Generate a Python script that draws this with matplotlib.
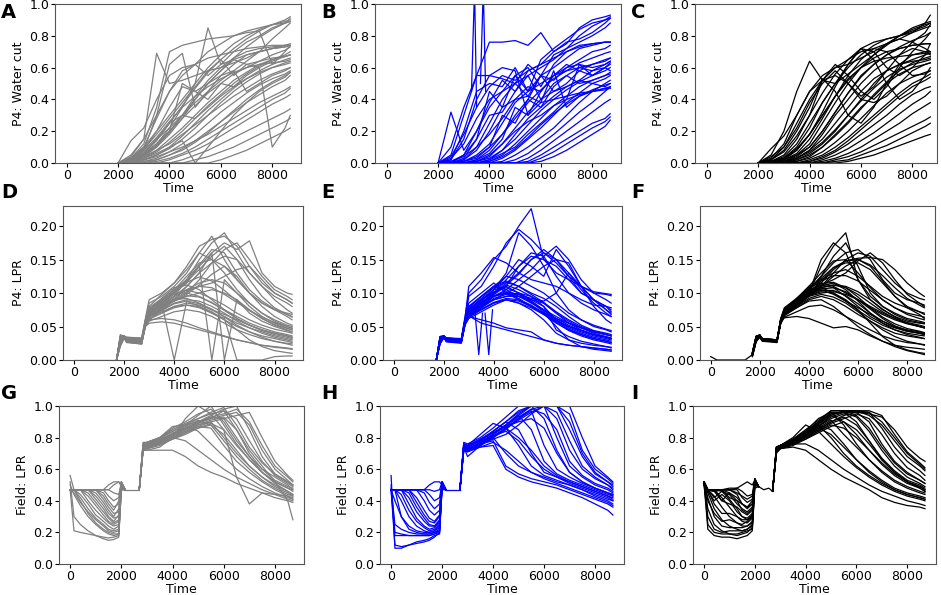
import matplotlib
matplotlib.use("Agg")
import matplotlib.pyplot as plt

# ---------------- shared time grids ----------------
WC_BASE_T = [0, 2000]
WC_BASE_V = [0.0, 0.0]
T_WC = [2000, 2500, 3000, 3500, 4000, 4500, 5000, 5500, 6000, 6500, 7000, 7500, 8000, 8500, 8700]

LPR_BASE_T = [0, 1700]
LPR_BASE_V = [0.0, 0.0]
F_BASE_T = [0, 60, 250, 1400, 1700]
F_BASE_V = [0.005, 0.004, 0.0, 0.0, 0.008]
T_LPR = [1700, 1850, 2000, 2100, 2700, 2850, 3000, 3500, 4000, 4500, 5000, 5500,
         6000, 6500, 7000, 7500, 8000, 8500, 8700]

T_FLD_EARLY = [0, 150, 400, 700, 1000, 1300, 1500, 1700, 1900, 2000, 2150]
T_FLD_MID = [2150, 2700]
V_FLD_MID = [0.47, 0.47]
T_FLD_MID_I = [2150, 2350, 2550, 2700]
V_FLD_MID_I = [0.49, 0.47, 0.48, 0.46]
T_FLD_LATE = [2700, 2850, 3000, 3500, 4000, 4500, 5000, 5500, 6000, 6500, 7000, 7500, 8000, 8500, 8700]

# ---------------- Panel A : P4 water cut (grey) ----------------
A_CURVES = [
    [0, .03, .10, .20, .30, .40, .50, .60, .68, .75, .80, .84, .87, .90, .92],
    [0, .02, .06, .15, .25, .36, .47, .57, .65, .72, .78, .83, .87, .89, .90],
    [0, .05, .15, .30, .45, .55, .62, .70, .75, .80, .83, .85, .87, .88, .89],
    [0, .01, .04, .10, .20, .30, .40, .50, .58, .66, .73, .79, .84, .88, .91],
    [0, .04, .15, .69, .50, .52, .55, .58, .60, .63, .66, .70, .72, .73, .74],
    [0, .02, .08, .30, .62, .69, .35, .45, .55, .62, .68, .70, .72, .73, .74],
    [0, .03, .12, .35, .70, .74, .76, .78, .79, .80, .82, .83, .62, .70, .74],
    [0, .02, .05, .12, .22, .35, .50, .85, .62, .65, .68, .70, .72, .74, .75],
    [0, .01, .03, .08, .15, .22, .30, .38, .45, .52, .57, .62, .65, .67, .68],
    [0, .00, .02, .05, .10, .17, .25, .33, .40, .47, .53, .58, .62, .65, .66],
    [0, .02, .06, .14, .25, .30, .28, .35, .42, .48, .53, .57, .60, .62, .63],
    [0, .01, .04, .08, .12, .18, .24, .30, .36, .42, .47, .52, .56, .59, .60],
    [0, .00, .01, .03, .07, .12, .18, .25, .32, .38, .44, .49, .53, .56, .58],
    [0, .00, .00, .02, .05, .09, .14, .20, .26, .32, .38, .43, .48, .52, .55],
    [0, .02, .08, .20, .35, .48, .45, .50, .55, .58, .45, .50, .55, .58, .60],
    [0, .00, .00, .01, .03, .06, .10, .15, .20, .25, .30, .35, .40, .44, .47],
    [0, .00, .00, .00, .02, .05, .08, .12, .17, .22, .27, .32, .37, .41, .43],
    [0, .00, .00, .00, .00, .02, .05, .08, .12, .16, .20, .24, .28, .32, .34],
    [0, .00, .00, .00, .00, .00, .02, .04, .07, .10, .14, .18, .22, .26, .28],
    [0, .00, .00, .00, .00, .00, .00, .00, .02, .05, .08, .12, .16, .20, .22],
    [0, .03, .09, .18, .28, .38, .48, .58, .65, .55, .62, .60, .10, .22, .30],
    [0, .02, .05, .10, .18, .28, .40, .50, .58, .65, .62, .64, .66, .67, .68],
    [0, .01, .03, .06, .10, .14, .00, .10, .20, .30, .38, .45, .50, .54, .57],
    [0, .14, .22, .40, .55, .60, .62, .66, .68, .70, .72, .73, .74, .74, .74],
    [0, .01, .02, .04, .07, .10, .14, .18, .23, .28, .33, .38, .42, .46, .48],
    [0, .02, .07, .15, .22, .30, .38, .45, .52, .58, .64, .70, .78, .85, .88],
    [0, .03, .10, .28, .45, .58, .62, .55, .62, .70, .76, .80, .85, .88, .89],
    [0, .01, .05, .12, .20, .50, .45, .40, .50, .48, .55, .60, .64, .67, .68],
    [0, .02, .06, .12, .20, .28, .36, .44, .50, .56, .60, .64, .68, .71, .73],
    [0, .01, .03, .07, .13, .20, .28, .36, .43, .50, .56, .61, .65, .68, .70],
    [0, .00, .02, .05, .09, .15, .22, .30, .38, .45, .51, .56, .60, .63, .64],
    [0, .03, .08, .16, .26, .35, .42, .48, .53, .57, .60, .62, .63, .64, .65],
    [0, .00, .01, .02, .05, .08, .13, .19, .26, .33, .40, .46, .51, .55, .57],
    [0, .02, .05, .11, .19, .30, .42, .52, .60, .66, .70, .72, .73, .74, .74],
]

# ---------------- Panel B : P4 water cut (blue) ----------------
B_CURVES = [
    [0, .05, .30, .55, .76, .76, .77, .74, .82, .70, .75, .85, .90, .92, .93],
    [0, .10, .35, .55, .55, .53, .50, .55, .60, .65, .72, .80, .86, .90, .92],
    [0, .02, .20, .45, .50, .48, .60, .45, .65, .72, .78, .84, .88, .90, .91],
    [0, .00, .05, .20, .38, .52, .45, .58, .62, .70, .76, .78, .82, .88, .91],
    [0, .03, .12, .28, .40, .45, .50, .42, .55, .60, .66, .72, .74, .76, .76],
    [0, .00, .02, .08, .20, .35, .55, .60, .48, .62, .70, .74, .75, .76, .76],
    [0, .00, .01, .05, .12, .25, .38, .45, .55, .52, .60, .65, .70, .72, .74],
    [0, .00, .00, .02, .08, .18, .30, .40, .35, .48, .55, .60, .62, .64, .66],
    [0, .00, .00, .01, .04, .12, .22, .32, .40, .45, .50, .58, .55, .60, .62],
    [0, .00, .00, .00, .02, .08, .18, .28, .35, .42, .48, .52, .58, .60, .58],
    [0, .00, .00, .00, .01, .05, .12, .20, .28, .36, .42, .48, .52, .55, .57],
    [0, .00, .00, .00, .00, .03, .08, .15, .22, .30, .38, .44, .50, .53, .55],
    [0, .00, .00, .00, .00, .01, .05, .10, .16, .22, .30, .38, .45, .50, .52],
    [0, .00, .00, .00, .00, .00, .02, .06, .12, .18, .25, .32, .38, .45, .48],
    [0, .00, .00, .00, .00, .00, .00, .03, .08, .14, .20, .26, .32, .38, .40],
    [0, .00, .00, .00, .00, .00, .00, .01, .05, .10, .15, .20, .25, .28, .31],
    [0, .00, .00, .00, .00, .00, .00, .00, .03, .07, .12, .17, .22, .26, .29],
    [0, .00, .00, .00, .00, .00, .00, .00, .01, .04, .08, .13, .18, .23, .27],
    [0, .02, .15, .40, .55, .60, .58, .30, .45, .55, .60, .62, .60, .62, .64],
    [0, .00, .03, .15, .30, .32, .45, .55, .40, .50, .55, .50, .52, .55, .56],
    [0, .00, .01, .03, .10, .30, .25, .40, .55, .45, .48, .52, .50, .48, .50],
    [0, .00, .00, .02, .06, .15, .35, .30, .38, .58, .35, .42, .45, .47, .48],
    [0, .01, .05, .15, .45, .35, .40, .42, .38, .40, .42, .44, .45, .46, .47],
    [0, .00, .00, .00, .02, .06, .10, .18, .25, .32, .40, .62, .55, .60, .63],
    [0, .00, .02, .10, .25, .40, .50, .62, .55, .68, .72, .76, .80, .85, .88],
    [0, .32, .08, .20, .35, .45, .55, .45, .50, .55, .58, .60, .58, .62, .64],
    [0, .00, .01, .04, .10, .18, .28, .38, .46, .53, .58, .63, .66, .69, .70],
    [0, .00, .00, .01, .03, .08, .15, .24, .33, .40, .46, .51, .55, .58, .60],
    [0, .01, .04, .10, .18, .28, .40, .48, .45, .55, .62, .58, .62, .65, .66],
    [0, .00, .00, .00, .01, .04, .09, .16, .24, .31, .37, .42, .46, .49, .50],
    [0, .04, .18, .35, .48, .55, .52, .58, .62, .66, .70, .73, .75, .76, .76],
    [0, .00, .00, .01, .05, .12, .20, .26, .30, .36, .40, .43, .45, .47, .47],
]
B_SPIKE1_T = [3300, 3420, 3500]
B_SPIKE1_V = [0.45, 1.10, 0.35]
B_SPIKE2_T = [3650, 3760, 3850]
B_SPIKE2_V = [0.50, 1.10, 0.45]

# ---------------- Panel C : P4 water cut (black) ----------------
C_CURVES = [
    [0, .05, .20, .45, .64, .52, .50, .56, .62, .68, .74, .80, .85, .88, .89],
    [0, .09, .17, .30, .45, .55, .60, .62, .66, .70, .75, .80, .84, .87, .88],
    [0, .02, .10, .25, .40, .52, .60, .65, .70, .72, .75, .78, .82, .88, .93],
    [0, .01, .05, .15, .30, .52, .62, .55, .45, .40, .48, .60, .70, .78, .82],
    [0, .00, .03, .10, .22, .38, .50, .60, .68, .74, .78, .80, .82, .85, .86],
    [0, .00, .02, .08, .18, .30, .42, .52, .60, .66, .70, .72, .74, .75, .75],
    [0, .02, .08, .20, .35, .53, .45, .30, .25, .35, .50, .62, .68, .70, .70],
    [0, .00, .01, .05, .12, .25, .38, .50, .60, .68, .75, .78, .76, .72, .70],
    [0, .00, .00, .03, .08, .18, .30, .40, .50, .58, .64, .68, .72, .70, .68],
    [0, .01, .04, .12, .25, .38, .50, .62, .72, .65, .50, .40, .45, .55, .60],
    [0, .00, .00, .02, .06, .12, .20, .30, .40, .50, .58, .62, .64, .65, .66],
    [0, .00, .00, .01, .04, .10, .18, .26, .35, .42, .50, .56, .60, .62, .63],
    [0, .00, .00, .01, .03, .07, .13, .20, .28, .36, .44, .50, .54, .57, .58],
    [0, .00, .00, .00, .02, .05, .10, .16, .23, .30, .37, .44, .50, .54, .56],
    [0, .00, .00, .00, .01, .03, .07, .12, .18, .24, .30, .37, .43, .47, .48],
    [0, .00, .00, .00, .00, .02, .05, .09, .14, .19, .25, .31, .37, .42, .45],
    [0, .00, .00, .00, .00, .01, .03, .06, .10, .15, .20, .25, .31, .36, .38],
    [0, .00, .00, .00, .00, .00, .02, .04, .07, .11, .15, .19, .23, .27, .29],
    [0, .00, .00, .00, .00, .00, .01, .02, .05, .08, .11, .15, .19, .23, .25],
    [0, .00, .00, .00, .00, .00, .00, .01, .03, .05, .08, .11, .14, .17, .18],
    [0, .03, .12, .30, .45, .52, .55, .50, .40, .38, .42, .50, .58, .62, .63],
    [0, .00, .02, .06, .15, .28, .42, .55, .65, .72, .70, .62, .55, .56, .58],
    [0, .01, .03, .08, .18, .32, .48, .62, .72, .70, .60, .55, .60, .68, .75],
    [0, .00, .02, .05, .10, .20, .32, .44, .55, .62, .68, .73, .77, .80, .82],
    [0, .00, .01, .03, .08, .15, .25, .35, .45, .53, .58, .62, .65, .68, .69],
    [0, .04, .10, .22, .38, .50, .58, .50, .42, .48, .58, .68, .76, .82, .87],
    [0, .00, .01, .04, .10, .20, .32, .44, .54, .62, .68, .72, .74, .75, .75],
    [0, .00, .00, .02, .05, .10, .17, .25, .34, .43, .51, .58, .63, .66, .67],
    [0, .01, .03, .09, .18, .30, .42, .53, .60, .64, .66, .67, .68, .69, .70],
    [0, .00, .00, .00, .01, .04, .08, .14, .21, .28, .35, .42, .48, .52, .54],
    [0, .02, .07, .17, .30, .44, .56, .65, .72, .76, .78, .80, .83, .86, .88],
    [0, .00, .01, .03, .07, .13, .21, .30, .39, .47, .54, .59, .62, .64, .65],
]

# ---------------- Panel D : P4 LPR (grey) ----------------
D_CURVES = [
    [0, .035, .036, .034, .033, .060, .085, .095, .110, .130, .160, .185, .150, .120, .100, .085, .075, .070, .068],
    [0, .030, .035, .030, .028, .055, .070, .080, .095, .120, .150, .175, .190, .160, .130, .110, .095, .085, .080],
    [0, .020, .033, .028, .025, .052, .065, .085, .100, .115, .140, .160, .175, .165, .178, .130, .110, .100, .098],
    [0, .025, .036, .032, .030, .058, .075, .090, .105, .125, .145, .150, .140, .120, .100, .085, .075, .065, .060],
    [0, .033, .034, .026, .024, .050, .060, .075, .090, .110, .130, .145, .155, .150, .130, .110, .090, .075, .070],
    [0, .038, .035, .030, .027, .054, .068, .082, .095, .105, .115, .120, .115, .100, .085, .070, .060, .052, .050],
    [0, .028, .034, .031, .029, .056, .072, .088, .100, .100, .095, .085, .075, .065, .055, .048, .042, .038, .036],
    [0, .022, .032, .027, .024, .052, .064, .078, .090, .092, .085, .075, .065, .055, .048, .042, .036, .032, .030],
    [0, .030, .035, .033, .031, .058, .078, .092, .108, .112, .105, .090, .075, .062, .052, .045, .040, .036, .034],
    [0, .035, .036, .029, .026, .051, .062, .070, .080, .085, .082, .075, .068, .060, .052, .045, .040, .036, .034],
    [0, .024, .033, .030, .028, .055, .066, .075, .085, .090, .088, .080, .070, .058, .048, .040, .034, .030, .028],
    [0, .032, .035, .028, .025, .052, .058, .065, .072, .075, .072, .065, .055, .045, .038, .032, .028, .025, .024],
    [0, .030, .034, .032, .030, .056, .080, .098, .115, .135, .160, .150, .130, .105, .085, .070, .058, .050, .048],
    [0, .027, .036, .031, .028, .055, .070, .080, .090, .100, .120, .145, .165, .175, .150, .125, .105, .095, .090],
    [0, .034, .035, .027, .024, .050, .055, .057, .055, .050, .045, .040, .035, .030, .026, .022, .019, .017, .016],
    [0, .026, .033, .030, .027, .053, .060, .062, .060, .055, .048, .042, .036, .030, .026, .022, .020, .018, .017],
    [0, .031, .035, .029, .027, .054, .070, .085, .000, .088, .080, .070, .060, .050, .042, .036, .032, .028, .026],
    [0, .033, .036, .031, .029, .057, .075, .090, .105, .120, .140, .000, .120, .100, .080, .065, .055, .048, .045],
    [0, .029, .034, .028, .026, .053, .068, .082, .095, .110, .130, .160, .000, .090, .070, .058, .050, .044, .042],
    [0, .025, .035, .032, .030, .055, .065, .072, .080, .082, .078, .070, .062, .000, .000, .000, .005, .006, .006],
    [0, .036, .035, .034, .032, .062, .090, .100, .115, .140, .170, .180, .185, .170, .140, .115, .100, .090, .085],
    [0, .028, .036, .030, .027, .055, .072, .085, .095, .105, .110, .115, .125, .135, .140, .120, .100, .090, .085],
    [0, .031, .034, .031, .029, .057, .070, .080, .088, .095, .100, .105, .100, .090, .075, .062, .052, .045, .042],
    [0, .023, .034, .028, .026, .052, .061, .070, .078, .082, .080, .072, .060, .045, .030, .020, .014, .011, .010],
    [0, .032, .035, .029, .026, .054, .066, .076, .088, .098, .112, .128, .140, .125, .100, .080, .065, .055, .052],
    [0, .027, .034, .030, .028, .056, .068, .083, .100, .118, .135, .155, .170, .150, .120, .095, .078, .068, .065],
    [0, .030, .035, .030, .028, .056, .072, .086, .098, .104, .100, .092, .082, .070, .060, .052, .046, .042, .040],
    [0, .027, .034, .029, .026, .053, .066, .078, .090, .096, .094, .086, .074, .062, .052, .044, .038, .034, .032],
    [0, .033, .036, .032, .030, .058, .076, .090, .104, .116, .124, .118, .104, .088, .074, .062, .053, .047, .045],
    [0, .025, .033, .028, .025, .052, .064, .074, .084, .088, .084, .076, .064, .052, .042, .034, .028, .024, .022],
    [0, .031, .035, .031, .029, .057, .074, .088, .102, .120, .142, .165, .160, .130, .105, .088, .076, .068, .064],
    [0, .029, .034, .030, .027, .054, .068, .080, .092, .102, .110, .108, .098, .086, .074, .064, .056, .050, .047],
]

# ---------------- Panel E : P4 LPR (blue) ----------------
E_CURVES = [
    [0, .035, .035, .033, .032, .065, .100, .120, .150, .170, .200, .226, .150, .130, .120, .110, .100, .098, .096],
    [0, .030, .034, .030, .028, .060, .095, .110, .140, .175, .195, .180, .160, .145, .125, .110, .102, .099, .098],
    [0, .033, .036, .032, .030, .062, .110, .130, .153, .145, .130, .120, .115, .110, .100, .090, .082, .080, .078],
    [0, .025, .035, .031, .029, .058, .075, .090, .105, .125, .150, .140, .125, .165, .140, .110, .090, .075, .070],
    [0, .028, .034, .028, .026, .055, .070, .085, .100, .115, .130, .150, .160, .150, .130, .110, .090, .075, .068],
    [0, .035, .036, .030, .027, .056, .072, .088, .105, .110, .100, .090, .080, .060, .050, .042, .036, .032, .030],
    [0, .030, .035, .032, .030, .060, .080, .095, .110, .105, .095, .085, .075, .065, .055, .048, .042, .038, .036],
    [0, .024, .033, .029, .027, .054, .068, .080, .095, .100, .092, .080, .068, .055, .045, .038, .032, .028, .026],
    [0, .032, .035, .031, .029, .057, .070, .082, .090, .095, .100, .095, .080, .045, .035, .028, .024, .020, .018],
    [0, .029, .034, .027, .025, .052, .062, .072, .082, .090, .088, .080, .070, .050, .030, .020, .016, .014, .013],
    [0, .034, .035, .033, .031, .058, .066, .055, .050, .045, .040, .035, .030, .025, .022, .020, .018, .016, .015],
    [0, .027, .036, .030, .028, .056, .065, .060, .055, .048, .045, .042, .030, .025, .022, .020, .018, .016, .015],
    [0, .031, .034, .029, .027, .054, .065, .075, .085, .090, .085, .078, .068, .058, .050, .044, .038, .034, .032],
    [0, .026, .035, .032, .030, .058, .068, .078, .092, .098, .095, .088, .075, .062, .052, .044, .038, .034, .032],
    [0, .033, .036, .030, .028, .056, .075, .090, .100, .120, .140, .155, .150, .140, .120, .100, .090, .080, .072],
    [0, .028, .034, .031, .029, .057, .072, .085, .095, .105, .120, .135, .155, .170, .150, .120, .100, .090, .085],
    [0, .030, .035, .028, .026, .053, .070, .080, .090, .100, .110, .125, .140, .150, .145, .110, .080, .060, .055],
    [0, .025, .033, .029, .027, .055, .068, .082, .098, .112, .105, .095, .085, .070, .055, .045, .038, .034, .032],
    [0, .034, .035, .032, .030, .060, .085, .100, .115, .100, .090, .080, .070, .062, .055, .048, .042, .038, .036],
    [0, .032, .036, .031, .029, .058, .078, .095, .110, .125, .120, .110, .100, .085, .070, .060, .052, .046, .044],
    [0, .029, .035, .030, .028, .055, .070, .088, .105, .130, .190, .170, .140, .100, .075, .060, .050, .045, .042],
    [0, .027, .034, .031, .029, .056, .066, .078, .090, .095, .095, .090, .085, .070, .058, .048, .040, .035, .033],
    [0, .031, .035, .029, .027, .054, .064, .075, .085, .090, .085, .075, .060, .040, .030, .025, .022, .020, .019],
    [0, .035, .036, .033, .031, .060, .080, .095, .110, .118, .110, .100, .092, .080, .065, .052, .044, .040, .038],
    [0, .026, .034, .030, .028, .055, .068, .080, .095, .100, .098, .092, .088, .100, .130, .105, .085, .070, .065],
    [0, .031, .035, .030, .028, .056, .074, .090, .102, .108, .100, .088, .074, .060, .048, .040, .034, .030, .028],
    [0, .028, .034, .029, .027, .054, .070, .084, .096, .102, .098, .086, .072, .058, .046, .038, .032, .028, .026],
    [0, .033, .036, .031, .029, .058, .076, .092, .108, .116, .110, .098, .086, .072, .060, .050, .043, .038, .036],
    [0, .026, .034, .030, .028, .055, .066, .076, .086, .092, .090, .082, .070, .056, .044, .036, .030, .026, .024],
    [0, .030, .035, .032, .030, .057, .072, .086, .100, .112, .128, .150, .165, .150, .125, .100, .090, .080, .075],
    [0, .032, .035, .029, .027, .055, .070, .084, .098, .110, .140, .160, .155, .125, .100, .085, .075, .068, .065],
]
E_DIP1_T = [3250, 3400, 3550]
E_DIP1_V = [0.070, 0.008, 0.070]
E_DIP2_T = [3650, 3800, 3950]
E_DIP2_V = [0.070, 0.008, 0.075]

# ---------------- Panel F : P4 LPR (black) ----------------
F_CURVES = [
    [.010, .035, .038, .032, .030, .060, .075, .085, .100, .140, .170, .190, .120, .090, .075, .065, .058, .055, .054],
    [.008, .030, .036, .030, .028, .058, .072, .082, .100, .150, .175, .160, .120, .095, .080, .070, .062, .058, .056],
    [.012, .036, .037, .031, .029, .060, .074, .088, .105, .125, .145, .160, .165, .150, .120, .100, .090, .085, .082],
    [.006, .028, .035, .029, .027, .056, .068, .080, .095, .110, .130, .150, .160, .155, .135, .115, .100, .092, .090],
    [.009, .032, .036, .030, .028, .058, .070, .083, .098, .115, .135, .148, .152, .153, .150, .135, .115, .100, .095],
    [.011, .034, .037, .032, .030, .062, .078, .092, .108, .120, .130, .135, .125, .110, .095, .085, .078, .072, .070],
    [.007, .029, .035, .031, .029, .059, .074, .090, .110, .115, .110, .100, .090, .078, .068, .060, .054, .050, .048],
    [.010, .033, .036, .030, .028, .057, .070, .085, .100, .105, .098, .088, .078, .068, .058, .050, .045, .042, .040],
    [.008, .031, .036, .029, .027, .055, .066, .078, .090, .095, .090, .080, .068, .058, .048, .040, .036, .033, .032],
    [.005, .027, .034, .028, .026, .054, .064, .072, .080, .082, .075, .065, .055, .045, .036, .030, .026, .024, .023],
    [.009, .032, .036, .031, .029, .058, .063, .065, .062, .055, .048, .050, .045, .036, .028, .022, .019, .017, .016],
    [.010, .034, .037, .030, .028, .057, .068, .078, .088, .090, .080, .065, .050, .038, .028, .020, .014, .010, .008],
    [.011, .035, .037, .032, .030, .060, .076, .090, .105, .125, .155, .175, .140, .100, .080, .068, .060, .056, .055],
    [.008, .030, .035, .030, .028, .057, .072, .086, .100, .118, .138, .145, .145, .135, .115, .095, .080, .072, .068],
    [.007, .029, .035, .031, .029, .058, .070, .084, .100, .108, .112, .108, .098, .085, .072, .062, .055, .050, .048],
    [.010, .033, .036, .030, .028, .056, .068, .082, .098, .110, .115, .105, .088, .070, .055, .045, .038, .034, .032],
    [.009, .031, .036, .031, .029, .058, .072, .088, .102, .112, .120, .130, .148, .160, .145, .120, .098, .085, .080],
    [.006, .028, .034, .029, .027, .055, .068, .082, .095, .100, .102, .098, .090, .080, .070, .062, .056, .052, .050],
    [.010, .034, .037, .031, .029, .058, .074, .088, .104, .108, .100, .088, .074, .062, .052, .045, .040, .037, .036],
    [.008, .030, .035, .030, .028, .056, .067, .080, .092, .098, .094, .085, .072, .058, .045, .035, .028, .024, .022],
    [.011, .035, .037, .032, .030, .060, .076, .092, .110, .130, .148, .150, .130, .108, .090, .078, .070, .066, .064],
    [.007, .029, .035, .030, .028, .057, .069, .082, .096, .102, .100, .090, .075, .055, .035, .022, .015, .011, .010],
    [.009, .032, .036, .031, .029, .058, .070, .084, .100, .110, .125, .140, .150, .140, .118, .095, .078, .068, .062],
    [.008, .031, .036, .030, .028, .057, .070, .086, .104, .112, .108, .095, .080, .065, .055, .048, .043, .040, .039],
    [.009, .032, .036, .031, .029, .058, .072, .088, .104, .114, .116, .108, .094, .078, .064, .054, .047, .043, .041],
    [.008, .030, .035, .030, .028, .056, .068, .082, .096, .104, .104, .096, .084, .070, .058, .049, .043, .040, .038],
    [.010, .033, .036, .031, .029, .058, .073, .089, .106, .122, .138, .148, .150, .142, .126, .108, .092, .082, .078],
    [.007, .029, .035, .030, .028, .056, .069, .083, .097, .106, .108, .102, .090, .076, .062, .051, .044, .040, .038],
    [.011, .034, .037, .032, .030, .060, .075, .090, .106, .118, .126, .126, .118, .104, .090, .078, .068, .062, .060],
    [.008, .031, .036, .030, .028, .057, .070, .084, .098, .108, .112, .110, .102, .090, .076, .064, .055, .050, .048],
]

# ---------------- Panel G : Field LPR (grey) ----------------
G_EARLY = [
    [.47, .21, .20, .19, .18, .17, .165, .17, .18, .47, .47],
    [.56, .47, .40, .32, .26, .22, .20, .19, .19, .50, .47],
    [.47, .47, .42, .35, .29, .25, .22, .21, .22, .52, .47],
    [.47, .47, .47, .40, .34, .29, .26, .24, .25, .50, .47],
    [.47, .47, .47, .45, .39, .33, .29, .26, .28, .51, .47],
    [.47, .47, .47, .47, .43, .37, .32, .29, .30, .49, .47],
    [.47, .47, .47, .47, .47, .41, .36, .32, .33, .52, .47],
    [.47, .47, .47, .47, .47, .45, .40, .36, .38, .50, .47],
    [.47, .47, .47, .47, .47, .47, .43, .40, .42, .52, .47],
    [.47, .47, .47, .47, .47, .47, .47, .45, .44, .51, .47],
    [.47, .47, .47, .47, .47, .47, .50, .52, .52, .50, .47],
    [.47, .47, .47, .47, .47, .47, .47, .50, .52, .49, .47],
    [.50, .44, .37, .30, .25, .21, .19, .18, .19, .48, .47],
    [.47, .45, .39, .33, .28, .24, .21, .20, .21, .47, .47],
    [.47, .47, .44, .38, .31, .27, .24, .22, .24, .51, .47],
    [.47, .47, .47, .43, .37, .31, .27, .25, .27, .50, .47],
    [.47, .47, .47, .47, .41, .35, .30, .27, .31, .52, .47],
    [.47, .47, .47, .47, .45, .39, .34, .30, .35, .49, .47],
    [.47, .47, .47, .47, .47, .43, .38, .34, .40, .51, .47],
    [.52, .30, .25, .21, .18, .16, .15, .155, .17, .47, .47],
]
G_LATE = [
    [.47, .72, .72, .74, .80, .92, 1.0, .95, .85, .75, .66, .58, .52, .48, .46],
    [.47, .73, .74, .76, .82, .88, .94, 1.0, .88, .76, .66, .58, .52, .48, .47],
    [.47, .75, .76, .80, .87, .88, .90, .92, .97, .85, .70, .60, .53, .49, .48],
    [.47, .74, .75, .78, .82, .86, .90, .94, .98, 1.0, .85, .68, .57, .52, .50],
    [.47, .72, .72, .72, .72, .68, .62, .58, .55, .51, .48, .45, .42, .40, .39],
    [.47, .73, .74, .76, .80, .78, .72, .66, .60, .55, .51, .47, .44, .41, .40],
    [.47, .75, .76, .79, .84, .88, .84, .76, .68, .60, .54, .49, .45, .42, .41],
    [.47, .72, .73, .77, .82, .87, .91, .88, .78, .68, .60, .53, .48, .44, .43],
    [.47, .74, .75, .78, .83, .86, .90, .93, .92, .80, .68, .58, .51, .46, .44],
    [.47, .76, .77, .80, .85, .89, .92, .95, .97, .92, .78, .65, .56, .51, .49],
    [.47, .73, .74, .77, .81, .85, .89, .93, .95, .98, .90, .75, .62, .55, .52],
    [.47, .77, .77, .80, .86, .90, .95, .98, .90, .78, .68, .60, .55, .50, .47],
    [.47, .72, .73, .76, .80, .84, .88, .90, .80, .70, .62, .55, .50, .46, .44],
    [.47, .74, .75, .77, .80, .83, .86, .89, .85, .55, .38, .45, .44, .43, .42],
    [.47, .75, .76, .79, .82, .86, .89, .92, .94, .96, .88, .72, .60, .53, .50],
    [.47, .73, .74, .76, .79, .82, .86, .88, .82, .72, .62, .55, .49, .45, .43],
    [.47, .76, .77, .80, .84, .88, .92, .96, .99, .88, .74, .64, .57, .52, .50],
    [.47, .72, .73, .75, .79, .83, .87, .86, .75, .65, .58, .52, .47, .43, .41],
    [.47, .74, .75, .78, .82, .85, .88, .91, .93, .85, .72, .62, .52, .40, .28],
    [.47, .75, .76, .78, .81, .84, .87, .90, .92, .94, .96, .80, .65, .56, .53],
]

# ---------------- Panel H : Field LPR (blue) ----------------
H_EARLY = [
    [.56, .10, .10, .12, .13, .14, .15, .17, .20, .47, .47],
    [.47, .12, .11, .12, .14, .15, .16, .18, .19, .50, .47],
    [.50, .20, .19, .18, .18, .18, .18, .19, .21, .52, .47],
    [.47, .47, .30, .22, .20, .19, .19, .20, .22, .50, .47],
    [.47, .47, .40, .30, .24, .21, .20, .21, .24, .52, .47],
    [.47, .47, .47, .38, .29, .24, .22, .23, .26, .49, .47],
    [.47, .47, .47, .45, .36, .29, .25, .24, .28, .51, .47],
    [.47, .47, .47, .47, .42, .34, .29, .27, .31, .52, .47],
    [.47, .47, .47, .47, .47, .40, .34, .31, .34, .50, .47],
    [.47, .47, .47, .47, .47, .45, .39, .35, .38, .52, .47],
    [.47, .47, .47, .47, .47, .47, .44, .40, .42, .51, .47],
    [.47, .47, .47, .47, .47, .47, .50, .52, .52, .50, .47],
    [.47, .47, .47, .47, .47, .47, .47, .46, .47, .52, .47],
    [.48, .25, .22, .20, .19, .19, .19, .20, .21, .48, .47],
    [.47, .40, .30, .24, .21, .20, .20, .21, .23, .50, .47],
    [.47, .47, .44, .34, .27, .23, .21, .22, .25, .51, .47],
    [.47, .47, .47, .42, .33, .27, .24, .24, .27, .49, .47],
    [.47, .47, .47, .47, .39, .31, .27, .26, .30, .52, .47],
    [.47, .18, .18, .18, .18, .18, .18, .19, .20, .50, .47],
]
H_LATE = [
    [.47, .72, .72, .74, .75, .60, .55, .52, .50, .48, .45, .42, .38, .34, .31],
    [.47, .74, .73, .76, .78, .62, .57, .54, .52, .50, .47, .44, .41, .38, .36],
    [.47, .75, .74, .78, .80, .70, .62, .58, .55, .52, .50, .47, .43, .40, .38],
    [.47, .73, .72, .75, .80, .86, .75, .62, .56, .53, .50, .47, .44, .41, .40],
    [.47, .76, .75, .79, .84, .90, .85, .70, .58, .55, .52, .49, .46, .43, .42],
    [.47, .74, .73, .77, .82, .88, .94, .85, .65, .57, .53, .50, .47, .44, .43],
    [.47, .72, .71, .75, .80, .86, .92, .97, .75, .60, .55, .51, .48, .45, .44],
    [.47, .75, .74, .78, .84, .90, .97, 1.0, 1.0, .80, .62, .55, .50, .47, .45],
    [.47, .77, .76, .80, .86, .93, 1.0, 1.0, 1.0, .92, .72, .60, .54, .50, .48],
    [.47, .73, .72, .76, .82, .88, .95, 1.0, 1.0, 1.0, .85, .68, .57, .52, .50],
    [.47, .74, .68, .75, .80, .85, .92, .98, 1.0, 1.0, .95, .72, .60, .54, .51],
    [.47, .76, .75, .82, .89, .86, .80, .72, .62, .56, .52, .49, .46, .43, .41],
    [.47, .72, .72, .76, .81, .84, .78, .68, .60, .55, .51, .48, .45, .42, .40],
    [.47, .75, .74, .78, .83, .87, .90, .92, .86, .70, .58, .52, .48, .45, .43],
    [.47, .73, .72, .77, .82, .87, .93, .98, .95, .85, .65, .56, .51, .48, .46],
    [.47, .74, .73, .76, .79, .82, .88, .95, 1.0, .96, .78, .62, .55, .50, .47],
    [.47, .76, .75, .79, .83, .88, .94, 1.0, 1.0, 1.0, 1.0, .80, .62, .55, .52],
    [.47, .72, .71, .74, .77, .72, .65, .58, .54, .51, .48, .45, .42, .39, .37],
    [.47, .75, .74, .78, .84, .90, .96, 1.0, .92, .72, .58, .52, .48, .45, .44],
    [.47, .73, .72, .76, .81, .86, .91, .96, 1.0, 1.0, .90, .70, .58, .52, .49],
]

# ---------------- Panel I : Field LPR (black) ----------------
I_EARLY = [
    [.51, .22, .18, .17, .17, .16, .17, .18, .21, .48, .49],
    [.52, .35, .25, .21, .19, .18, .19, .20, .23, .50, .49],
    [.52, .45, .35, .28, .24, .22, .21, .22, .24, .52, .49],
    [.50, .47, .43, .36, .30, .26, .24, .24, .26, .53, .49],
    [.52, .47, .47, .42, .36, .30, .27, .26, .29, .51, .49],
    [.51, .47, .47, .46, .41, .35, .30, .29, .32, .54, .49],
    [.52, .47, .47, .47, .45, .40, .34, .32, .35, .52, .49],
    [.50, .47, .47, .47, .47, .44, .38, .35, .38, .53, .49],
    [.52, .47, .46, .47, .47, .47, .42, .39, .41, .52, .49],
    [.51, .47, .46, .47, .47, .48, .46, .43, .44, .54, .49],
    [.52, .47, .47, .47, .48, .48, .50, .52, .50, .53, .49],
    [.50, .46, .40, .44, .40, .33, .30, .28, .30, .52, .49],
    [.52, .47, .42, .46, .44, .38, .35, .33, .36, .51, .49],
    [.51, .47, .46, .40, .45, .42, .38, .36, .40, .53, .49],
    [.52, .40, .32, .27, .28, .26, .25, .27, .30, .52, .49],
    [.50, .30, .22, .20, .21, .21, .21, .22, .25, .50, .49],
    [.52, .47, .38, .32, .32, .30, .28, .28, .31, .53, .49],
    [.51, .47, .47, .40, .38, .36, .33, .31, .34, .52, .49],
    [.52, .47, .47, .47, .42, .40, .38, .36, .38, .54, .49],
    [.50, .47, .47, .47, .47, .45, .43, .41, .43, .52, .49],
    [.52, .25, .20, .19, .19, .19, .20, .21, .22, .51, .49],
    [.51, .42, .30, .24, .23, .23, .23, .24, .27, .53, .49],
]
I_LATE = [
    [.46, .70, .73, .74, .72, .66, .60, .55, .51, .47, .42, .39, .37, .36, .35],
    [.46, .72, .74, .76, .76, .72, .66, .60, .55, .50, .46, .43, .40, .38, .37],
    [.46, .74, .75, .80, .88, .84, .76, .68, .61, .55, .50, .46, .43, .41, .40],
    [.46, .71, .74, .77, .82, .88, .85, .76, .66, .58, .52, .47, .44, .42, .41],
    [.46, .73, .75, .78, .84, .92, .96, .88, .76, .66, .58, .52, .48, .45, .44],
    [.46, .72, .74, .77, .82, .89, .96, .96, .90, .78, .66, .58, .52, .49, .47],
    [.46, .74, .75, .78, .83, .90, .97, .97, .96, .90, .76, .65, .58, .53, .51],
    [.46, .71, .73, .76, .81, .87, .94, .97, .97, .96, .86, .74, .65, .59, .56],
    [.46, .73, .75, .79, .85, .91, .97, .97, .97, .97, .94, .82, .71, .64, .61],
    [.46, .72, .74, .77, .82, .88, .95, .96, .96, .95, .93, .85, .74, .67, .65],
    [.46, .74, .75, .78, .83, .89, .94, .90, .82, .72, .63, .56, .51, .48, .46],
    [.46, .71, .73, .76, .80, .85, .90, .93, .88, .78, .67, .59, .53, .50, .48],
    [.46, .73, .75, .78, .82, .87, .92, .95, .94, .86, .74, .64, .57, .53, .51],
    [.46, .72, .74, .77, .81, .86, .91, .82, .74, .66, .59, .53, .49, .46, .45],
    [.46, .74, .75, .78, .83, .88, .80, .70, .62, .56, .51, .47, .44, .42, .41],
    [.46, .71, .73, .75, .79, .84, .89, .92, .95, .92, .82, .70, .61, .56, .53],
    [.46, .73, .75, .78, .82, .87, .93, .96, .97, .94, .88, .78, .68, .62, .59],
    [.46, .72, .74, .76, .80, .84, .88, .86, .80, .72, .64, .57, .52, .49, .47],
    [.46, .74, .75, .79, .84, .90, .95, .96, .93, .84, .72, .62, .55, .51, .49],
    [.46, .72, .74, .77, .81, .85, .90, .94, .96, .96, .90, .80, .70, .63, .60],
    [.46, .73, .74, .77, .81, .86, .82, .74, .66, .59, .53, .48, .45, .43, .42],
    [.46, .71, .73, .76, .79, .83, .87, .90, .85, .76, .66, .58, .52, .48, .46],
]

X_TICKS = [0, 2000, 4000, 6000, 8000]
WC_YTICKS = [0.0, 0.2, 0.4, 0.6, 0.8, 1.0]
LPR_YTICKS = [0.00, 0.05, 0.10, 0.15, 0.20]
FLD_YTICKS = [0.0, 0.2, 0.4, 0.6, 0.8, 1.0]

# ---------------- drawing ----------------
W, H = 941, 595
fig = plt.figure(figsize=(W / 100, H / 100), dpi=100)
FS = 9
LW = 0.9

def add_ax(l, r, t, b):
    return fig.add_axes([l / W, 1 - b / H, (r - l) / W, (b - t) / H])

def draw(ax, segments, color):
    for T, curves in segments:
        for c in curves:
            ax.plot(T, c, color=color, lw=LW)

def style(ax, ylabel, yticks, ylim, yfmt):
    ax.set_ylim(*ylim)
    ax.set_xticks(X_TICKS)
    ax.set_yticks(yticks)
    ax.set_yticklabels([yfmt.format(v) for v in yticks])
    ax.tick_params(labelsize=FS, length=2.6, width=0.8, pad=1.6)
    ax.set_xlabel("Time", fontsize=FS, labelpad=0)
    ax.set_ylabel(ylabel, fontsize=FS, labelpad=3)
    for s in ax.spines.values():
        s.set_color("#555555")

rects = {
    "A": (55, 301, 4, 163), "B": (375, 621, 4, 163), "C": (695, 937, 4, 163),
    "D": (63, 303, 206, 360), "E": (383, 622, 206, 360), "F": (700, 935, 206, 360),
    "G": (59, 304, 406, 564), "H": (380, 624, 406, 564), "I": (693, 936, 406, 564),
}
xlims = {"A": (-455, 9120), "B": (-455, 9120), "C": (-460, 8960)}

panels = {
    "A": ("gray", [(WC_BASE_T, [WC_BASE_V]), (T_WC, A_CURVES)]),
    "B": ("blue", [(WC_BASE_T, [WC_BASE_V]), (T_WC, B_CURVES),
                   (B_SPIKE1_T, [B_SPIKE1_V]), (B_SPIKE2_T, [B_SPIKE2_V])]),
    "C": ("black", [(WC_BASE_T, [WC_BASE_V]), (T_WC, C_CURVES)]),
    "D": ("gray", [(LPR_BASE_T, [LPR_BASE_V]), (T_LPR, D_CURVES)]),
    "E": ("blue", [(LPR_BASE_T, [LPR_BASE_V]), (T_LPR, E_CURVES),
                   (E_DIP1_T, [E_DIP1_V]), (E_DIP2_T, [E_DIP2_V])]),
    "F": ("black", [(F_BASE_T, [F_BASE_V]), (T_LPR, F_CURVES)]),
    "G": ("gray", [(T_FLD_EARLY, G_EARLY), (T_FLD_MID, [V_FLD_MID]), (T_FLD_LATE, G_LATE)]),
    "H": ("blue", [(T_FLD_EARLY, H_EARLY), (T_FLD_MID, [V_FLD_MID]), (T_FLD_LATE, H_LATE)]),
    "I": ("black", [(T_FLD_EARLY, I_EARLY), (T_FLD_MID_I, [V_FLD_MID_I]), (T_FLD_LATE, I_LATE)]),
}

for key, (l, r, t, b) in rects.items():
    ax = add_ax(l, r, t, b)
    color, segs = panels[key]
    draw(ax, segs, color)
    if key in xlims:
        ax.set_xlim(*xlims[key])
    if key in "ABC":
        style(ax, "P4: Water cut", WC_YTICKS, (0, 1.0), "{:.1f}")
    elif key in "DEF":
        style(ax, "P4: LPR", LPR_YTICKS, (0, 0.23), "{:.2f}")
    else:
        style(ax, "Field: LPR", FLD_YTICKS, (0, 1.0), "{:.1f}")

letters = {"A": (1, 3), "B": (321, 3), "C": (631, 3),
           "D": (1, 183), "E": (321, 183), "F": (631, 183),
           "G": (1, 384), "H": (321, 384), "I": (631, 384)}
for k, (x, y) in letters.items():
    fig.text(x / W, 1 - y / H, k, fontsize=14, fontweight="bold",
             ha="left", va="top")

fig.savefig("out.png", dpi=100)
